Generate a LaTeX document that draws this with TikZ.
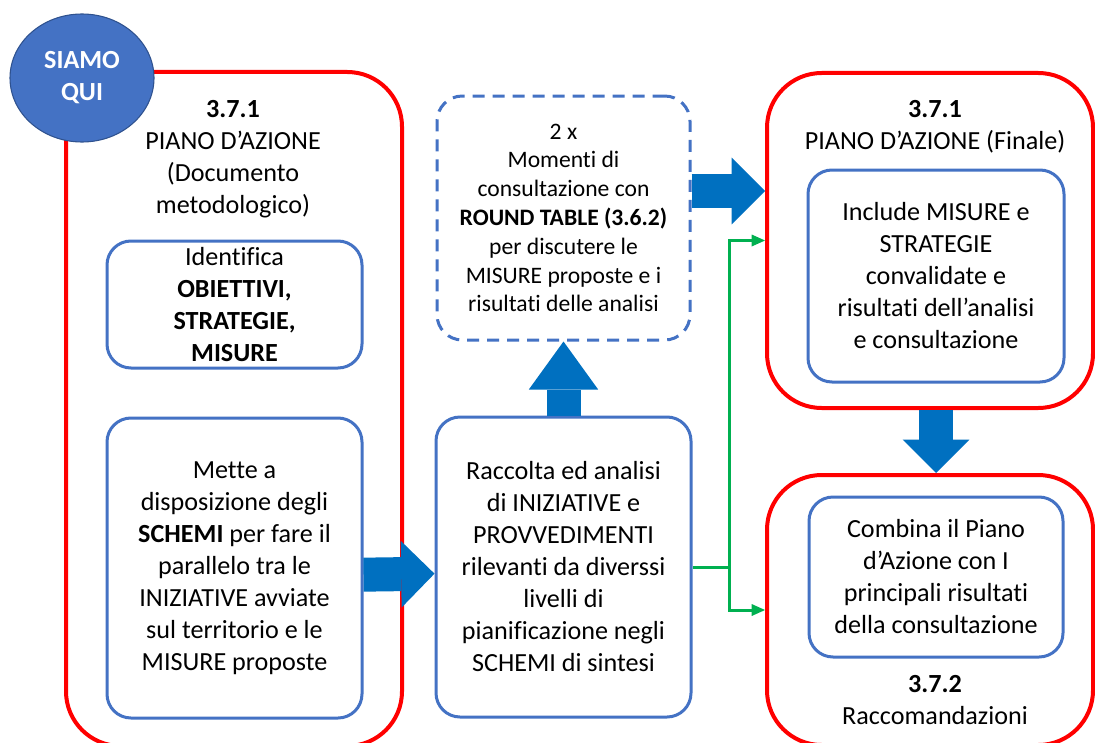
\documentclass[tikz,border=0pt]{standalone}
\usepackage{fontspec}
\setmainfont{Carlito}[Ligatures=NoCommon]
\usetikzlibrary{shapes.geometric,arrows.meta,calc}
\definecolor{boxblue}{HTML}{4472C4}
\definecolor{arrowblue}{HTML}{0070C0}
\definecolor{arrowgreen}{HTML}{00B050}
\definecolor{circborder}{HTML}{2F528F}
\newcommand{\bigtxt}{\fontsize{19.6}{24}\selectfont}
\newcommand{\smalltxt}{\fontsize{17.7}{21.6}\selectfont}
\begin{document}
\begin{tikzpicture}[x=0.75pt,y=-0.75pt,
  redbox/.style={draw=red, line width=3pt, rounded corners=41pt, inner sep=0pt},
  bluebox/.style={draw=boxblue, line width=2.25pt, rounded corners=18pt, inner sep=0pt, align=center, font=\bigtxt},
  dashbox/.style={draw=boxblue, line width=2.25pt, rounded corners=19pt, dash pattern=on 9pt off 6pt, inner sep=0pt, align=center, font=\smalltxt},
  titletxt/.style={align=center, font=\bigtxt, inner sep=0pt},
  bigarrow/.style={draw=arrowblue, line width=25.5pt, -{Triangle[width=50pt,length=25pt,line width=0pt]}},
  uparrow/.style={draw=arrowblue, line width=25.5pt, -{Triangle[width=52pt,length=36pt,line width=0pt]}},
  garrow/.style={draw=arrowgreen, line width=2.25pt, -{Triangle[width=9pt,length=10pt,line width=0pt]}},
  here/.style={ellipse, fill=boxblue, draw=circborder, line width=0.8pt, minimum width=108pt, minimum height=96pt, inner sep=0pt, align=center, text=white, font=\bigtxt\bfseries}
]
\useasboundingbox (0,0) rectangle (1095,742);
\fill[white] (0,0) rectangle (1095,742);
\clip (0,0) rectangle (1095,742);

% outer red frames
\node[redbox, minimum width=252pt, minimum height=505.5pt] (rl) at (234,409) {};
\node[redbox, minimum width=244.5pt, minimum height=251.25pt] (rtr) at (930,240.5) {};
\node[redbox, minimum width=244.5pt, minimum height=202.5pt] (rbr) at (930,610) {};

% titles
\node[titletxt] (tl) at (233,159) {\textbf{3.7.1}\\PIANO D’AZIONE\\(Documento\\metodologico)};
\node[titletxt] (ttr) at (935,127) {\textbf{3.7.1}\\PIANO D’AZIONE (Finale)};
\node[titletxt] (tbr) at (935,700) {\textbf{3.7.2}\\Raccomandazioni};

% inner boxes
\node[bluebox, minimum width=191.25pt, minimum height=95.25pt] (b1) at (234.5,304.5)
  {Identifica\\\textbf{OBIETTIVI,}\\\textbf{STRATEGIE,}\\\textbf{MISURE}};
\node[bluebox, minimum width=191.25pt, minimum height=225pt] (b2) at (234.5,568)
  {Mette a\\disposizione degli\\\textbf{SCHEMI} per fare il\\parallelo tra le\\INIZIATIVE avviate\\sul territorio e le\\MISURE proposte};
\node[bluebox, minimum width=191.25pt, minimum height=225pt] (b3) at (563.5,567)
  {Raccolta ed analisi\\di INIZIATIVE e\\PROVVEDIMENTI\\rilevanti da diverssi\\livelli di\\pianificazione negli\\SCHEMI di sintesi};
\node[dashbox, minimum width=189.75pt, minimum height=183pt] (dsh) at (563.5,218)
  {2 x\\Momenti di\\consultazione con\\\textbf{ROUND TABLE (3.6.2)}\\per discutere le\\MISURE proposte e i\\risultati delle analisi};
\node[bluebox, minimum width=192pt, minimum height=159pt] (itr) at (936,276)
  {Include MISURE e\\STRATEGIE\\convalidate e\\risultati dell’analisi\\e consultazione};
\node[bluebox, minimum width=190.5pt, minimum height=120pt] (ibr) at (936,577)
  {Combina il Piano\\d’Azione con I\\principali risultati\\della consultazione};

% block arrows
\draw[bigarrow] ([yshift=-5pt]b2.east) -- ([yshift=-5pt]b3.west);
\draw[uparrow] (b3.north) -- (dsh.south);
\coordinate (cs) at ([yshift=20.25pt]dsh.east);
\draw[bigarrow] (cs) -- (cs -| rtr.west);
\draw[bigarrow] (itr.south |- rtr.south) -- (itr.south |- rbr.north);

% green connectors
\coordinate (gj) at (729,567);
\draw[garrow] (b3.east) -- (gj) |- (rtr.west);
\draw[garrow] (gj) |- (rbr.west);

% badge
\node[here] (qui) at (82,78) {SIAMO\\QUI};
\end{tikzpicture}
\end{document}
